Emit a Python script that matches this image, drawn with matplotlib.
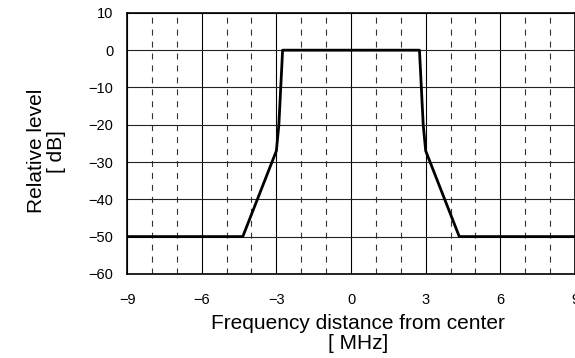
import matplotlib
matplotlib.use("Agg")
import matplotlib.pyplot as plt
import numpy as np

plt.rcParams["font.family"] = ["Liberation Sans", "DejaVu Sans"]
plt.rcParams["axes.unicode_minus"] = True
plt.rcParams["lines.scale_dashes"] = False

# spectrum mask (MHz offset, relative level dB)
freq = [-9, -4.35, -3.0, -2.9, -2.75, 2.75, 2.9, 3.0, 4.35, 9]
level = [-50, -50, -27, -20, 0, 0, -20, -27, -50, -50]

x_ticks = [-9, -6, -3, 0, 3, 6, 9]
x_minor = [-8, -7, -5, -4, -2, -1, 1, 2, 4, 5, 7, 8]
y_ticks = [10, 0, -10, -20, -30, -40, -50, -60]

fig = plt.figure(figsize=(5.75, 3.58), dpi=100)
ax = fig.add_axes([0.221, 0.235, 0.779, 0.729])

for x in x_minor:
    ax.axvline(x, color="#333333", lw=0.8, dashes=(4.3, 4.3), zorder=1)
for x in x_ticks:
    ax.axvline(x, color="black", lw=0.8, zorder=1)
for y in y_ticks:
    ax.axhline(y, color="#222222", lw=0.8, zorder=1)

ax.plot(freq, level, color="black", lw=2.0, zorder=3)

ax.set_xlim(-9, 9)
ax.set_ylim(-60, 10)
ax.set_xticks(x_ticks)
ax.set_yticks(y_ticks)
ax.tick_params(length=0, labelsize=10.5)
ax.tick_params(axis="x", pad=14)
ax.tick_params(axis="y", pad=10)
for s in ax.spines.values():
    s.set_linewidth(1.2)
    s.set_color("black")

ax.set_xlabel("Frequency distance from center\n[ MHz]", fontsize=15, linespacing=1.05)
ax.xaxis.set_label_coords(0.515, -0.155, transform=ax.transAxes)
ax.xaxis.label.set_va("top")
ax.set_ylabel("Relative level\n[ dB]", fontsize=15, linespacing=1.05)
ax.yaxis.set_label_coords(-0.137, 0.47, transform=ax.transAxes)

fig.savefig("out.png", dpi=100)
